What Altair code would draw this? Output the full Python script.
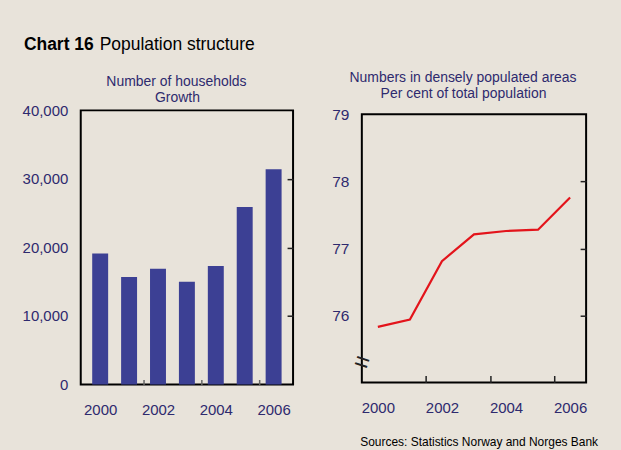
import altair as alt
import pandas as pd

# ---- data ----
years = [2000, 2001, 2002, 2003, 2004, 2005, 2006]
households_growth = [19100, 15700, 16900, 15000, 17300, 25900, 31400]
dense_share = [75.83, 75.94, 76.81, 77.21, 77.26, 77.28, 77.76]

year_labels = [2000, 2002, 2004, 2006]
minor_year_ticks = [2001.5, 2003.5, 2005.5]
hh_ticks = [0, 10000, 20000, 30000, 40000]
hh_inner_ticks = [10000, 20000, 30000]
pct_ticks = [76, 77, 78, 79]
pct_inner_ticks = [76, 77, 78]

title_bold = "Chart 16"
title_rest = "Population structure"
left_sub = ["Number of households", "Growth"]
right_sub = ["Numbers in densely populated areas", "Per cent of total population"]
source = "Sources: Statistics Norway and Norges Bank"

# ---- styling ----
NAVY = "#2E2A6E"
BAR = "#3C4094"
RED = "#E3141B"
BG = "#E8E3DA"
FONT = "Liberation Sans"

df_h = pd.DataFrame({"year": years, "value": households_growth})
df_p = pd.DataFrame({"year": years, "value": dense_share})
one = pd.DataFrame({"k": [0]})

xscale = alt.Scale(domain=[1999.5, 2006.5], nice=False, zero=False)


def x_main():
    return alt.Axis(values=year_labels, format="d", ticks=False, domain=False,
                    grid=False, labelPadding=18, labelFontSize=15,
                    labelColor=NAVY, title=None, orient="bottom")


def x_minor(size, color):
    return alt.Axis(values=minor_year_ticks, labels=False, domain=False,
                    grid=False, ticks=True, tickSize=size, offset=-size,
                    tickColor=color, tickWidth=1.5, title=None, orient="bottom")


def text_layer(txt, x, y, size=14, color=NAVY, weight="normal", align="center"):
    return alt.Chart(one).mark_text(
        text=txt, fontSize=size, color=color, fontWeight=weight, align=align,
        baseline="alphabetic", font=FONT,
    ).encode(x=alt.value(x), y=alt.value(y))


# ---- left panel: households ----
yh = alt.Scale(domain=[0, 40000], nice=False, zero=True)
bars = alt.Chart(df_h).mark_bar(size=16, color=BAR).encode(
    x=alt.X("year:Q", scale=xscale, axis=x_main()),
    y=alt.Y("value:Q", scale=yh,
            axis=alt.Axis(values=hh_ticks, format=",.0f", ticks=False, domain=False,
                          grid=False, labelPadding=13, labelFontSize=15,
                          labelColor=NAVY, title=None, orient="left")),
)
bars_ticks = alt.Chart(df_h).mark_point(opacity=0).encode(
    x=alt.X("year:Q", scale=xscale, axis=x_minor(5, "#666666")),
    y=alt.Y("value:Q", scale=yh,
            axis=alt.Axis(values=hh_inner_ticks, labels=False, domain=False,
                          grid=False, ticks=True, tickSize=6, offset=-6,
                          tickColor="#222222", tickWidth=1.5, title=None,
                          orient="right")),
)
left = alt.layer(
    bars, bars_ticks,
    text_layer(title_bold, -57, -61, size=17.5, color="black", weight="bold", align="left"),
    text_layer(title_rest, 19, -61, size=17.5, color="black", align="left"),
    text_layer(left_sub[0], 96, -24),
    text_layer(left_sub[1], 97, -8),
).resolve_axis(x="independent", y="independent").properties(width=213, height=275)

# ---- right panel: share in densely populated areas ----
yp = alt.Scale(domain=[75, 79], nice=False, zero=False)
line = alt.Chart(df_p).mark_line(color=RED, strokeWidth=2.2).encode(
    x=alt.X("year:Q", scale=xscale, axis=x_main()),
    y=alt.Y("value:Q", scale=yp,
            axis=alt.Axis(values=pct_ticks, format="d", ticks=False, domain=False,
                          grid=False, labelPadding=13, labelFontSize=15.5,
                          labelColor=NAVY, title=None, orient="left")),
)
line_ticks = alt.Chart(df_p).mark_point(opacity=0).encode(
    x=alt.X("year:Q", scale=xscale, axis=x_minor(7, "#222222")),
    y=alt.Y("value:Q", scale=yp,
            axis=alt.Axis(values=pct_inner_ticks, labels=False, domain=False,
                          grid=False, ticks=True, tickSize=6, offset=-6,
                          tickColor="#222222", tickWidth=1.5, title=None,
                          orient="right")),
)
brk = alt.Chart(one).mark_text(
    text="=", fontSize=26, angle=18, color="#222222", font=FONT,
    align="center", baseline="middle",
).encode(x=alt.value(0), y=alt.value(249))

right = alt.layer(
    line, line_ticks, brk,
    text_layer(right_sub[0], 101.5, -32),
    text_layer(right_sub[1], 102, -16),
    text_layer(source, 237, 333, size=12, color="black", align="right"),
).resolve_axis(x="independent", y="independent").properties(width=225, height=269)

# thin invisible spacer so the right frame starts a little lower than the left one
spacer = alt.Chart(one).mark_point(opacity=0).encode(
    x=alt.value(0), y=alt.value(0)
).properties(width=225, height=4, view=alt.ViewBackground(strokeWidth=0, stroke="transparent"))

right_col = alt.vconcat(spacer, right, spacing=0, bounds="flush")

chart = alt.hconcat(left, right_col, spacing=69, bounds="flush").properties(
    background=BG,
    padding={"left": 21, "top": 34, "right": 22, "bottom": 2},
).configure(font=FONT).configure_view(stroke="black", strokeWidth=2)

chart.save("out.html", embed_options={"renderer": "svg", "actions": False})
